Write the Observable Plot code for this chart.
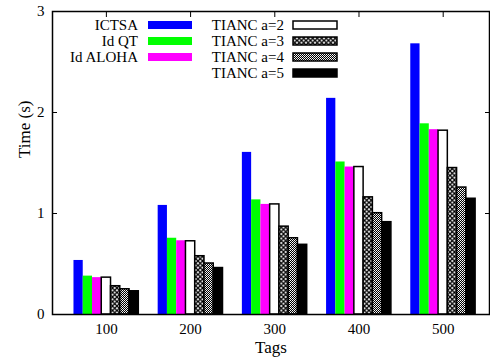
<!DOCTYPE html>
<html><head><meta charset="utf-8">
<script src="https://cdn.jsdelivr.net/npm/d3@7"></script>
<script src="https://cdn.jsdelivr.net/npm/@observablehq/plot@0.6"></script>
<style>body{margin:0;background:#fff}</style>
</head><body><div id="chart"></div>
<script>
const tags = [100, 200, 300, 400, 500];
const seriesNames = ["ICTSA", "Id QT", "Id ALOHA", "TIANC a=2", "TIANC a=3", "TIANC a=4", "TIANC a=5"];
const ictsa   = [0.535, 1.08, 1.605, 2.14, 2.68];
const idQT    = [0.38, 0.755, 1.135, 1.51, 1.888];
const idAloha = [0.365, 0.73, 1.09, 1.46, 1.83];
const tiancA2 = [0.365, 0.725, 1.09, 1.46, 1.82];
const tiancA3 = [0.28, 0.577, 0.87, 1.16, 1.45];
const tiancA4 = [0.25, 0.505, 0.755, 1.003, 1.257];
const tiancA5 = [0.23, 0.46, 0.69, 0.914, 1.146];
const yTicks = [0, 1, 2, 3];

const seriesValues = [ictsa, idQT, idAloha, tiancA2, tiancA3, tiancA4, tiancA5];
const fills = ["#0000ff", "#00ff00", "#ff00ff", "#ffffff", "url(#pat3)", "url(#pat4)", "#000000"];
const strokes = ["none", "none", "none", "#000", "#000", "#000", "#000"];

const data = [];
seriesValues.forEach((vals, si) => vals.forEach((v, ti) => data.push({tag: tags[ti], series: seriesNames[si], si, value: v})));

const barW = 11; // bar width in x units
const nS = seriesNames.length;
const FONT = "Liberation Serif";

const bars = seriesNames.map((name, si) => Plot.rect(data.filter(d => d.si === si), {
  x1: d => d.tag - nS * barW / 2 + d.si * barW,
  x2: d => d.tag - nS * barW / 2 + (d.si + 1) * barW,
  y1: d => 0,
  y2: "value",
  fill: fills[si],
  stroke: strokes[si],
  strokeWidth: 1.5
}));

const chart = Plot.plot({
  width: 490, height: 357,
  marginLeft: 52, marginRight: 1, marginTop: 11, marginBottom: 43,
  style: {fontSize: "15px", background: "#fff", color: "#000", fontFamily: FONT},
  x: {domain: [36, 555]},
  y: {domain: [0, 3]},
  marks: [
    Plot.axisX({ticks: tags, tickSize: -5, tickPadding: 14, label: null, fontSize: 15, tickFormat: d => String(d)}),
    Plot.axisX({anchor: "top", ticks: tags, tickSize: -5, tickFormat: () => "", label: null}),
    Plot.axisY({ticks: yTicks, tickSize: -5, tickPadding: 13, label: null, fontSize: 15, tickFormat: d => String(d)}),
    Plot.axisY({anchor: "right", ticks: yTicks, tickSize: -5, tickFormat: () => "", label: null}),
    ...bars,
    Plot.frame({stroke: "#000", strokeWidth: 1.5}),
    Plot.text(["Tags"], {frameAnchor: "bottom", dy: 38, fontSize: 17}),
    Plot.text(["Time (s)"], {frameAnchor: "left", dx: -28, dy: -5, rotate: -90, fontSize: 17})
  ]
});

const svg = d3.select(chart);
svg.attr("font-family", FONT);
const defs = svg.insert("defs", ":first-child");
const p3 = defs.append("pattern").attr("id", "pat3").attr("patternUnits", "userSpaceOnUse").attr("width", 4.5).attr("height", 4.5);
p3.append("rect").attr("width", 4.5).attr("height", 4.5).attr("fill", "#fff");
p3.append("path").attr("d", "M0,0L4.5,4.5M4.5,0L0,4.5").attr("stroke", "#000").attr("stroke-width", 1.3);
const p4 = defs.append("pattern").attr("id", "pat4").attr("patternUnits", "userSpaceOnUse").attr("width", 2).attr("height", 2);
p4.append("rect").attr("width", 2).attr("height", 2).attr("fill", "#000");
p4.append("rect").attr("width", 1).attr("height", 1).attr("fill", "#fff");
p4.append("rect").attr("x", 1).attr("y", 1).attr("width", 1).attr("height", 1).attr("fill", "#ddd");

// legend inside the frame
const leg = svg.append("g").attr("font-size", 15);
seriesNames.forEach((name, i) => {
  const col = i < 3 ? 0 : 1;
  const row = i < 3 ? i : i - 3;
  const textX = col === 0 ? 138 : 284;
  const swX = col === 0 ? 148 : 293;
  const cy = 25 + row * 16;
  leg.append("text").attr("x", textX).attr("y", cy).attr("dy", "0.35em").attr("text-anchor", "end").text(name);
  leg.append("rect").attr("x", swX).attr("y", cy - 4).attr("width", 44).attr("height", 8)
    .attr("fill", fills[i]).attr("stroke", strokes[i] === "none" ? "none" : "#000").attr("stroke-width", 1.5);
});

svg.selectAll("text").attr("font-family", FONT).style("font-family", FONT);

document.getElementById("chart").appendChild(chart);
</script>
</body></html>
